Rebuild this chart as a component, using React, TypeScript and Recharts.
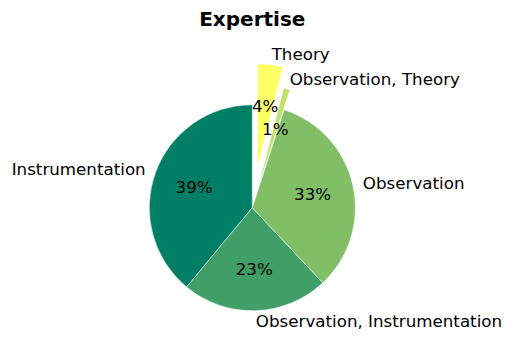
import React from "react";
import { PieChart, Pie, Cell } from "recharts";

const categories = ["Instrumentation", "Observation, Instrumentation", "Observation", "Observation, Theory", "Theory"];
const values = [39, 23, 33, 1, 4];
const colors = ["#007f66", "#409f66", "#80bf66", "#bfdf66", "#ffff66"];
const explode = [0, 0, 0, 0.2, 0.4];
const title = "Expertise";

const W = 514;
const H = 340;
const M = 5;
const CX = 252.3 - M;
const CY = 207.7 - M;
const R = 103;
const RAD = Math.PI / 180;
const FONT = "'DejaVu Sans', sans-serif";
const FS = 16.7;

const data = categories.map((name, i) => ({ name, value: values[i] }));
const total = values.reduce((a, b) => a + b, 0);

const midAngles: number[] = [];
{
  let cum = 0;
  values.forEach((v) => {
    midAngles.push(90 + (360 * (cum + v / 2)) / total);
    cum += v;
  });
}

const groups = Array.from(new Set(explode)).map((e) => explode.map((x, i) => (x === e ? i : -1)).filter((i) => i >= 0));

const makeLabel = (members: number[]) => (props: any) => {
  const { cx, cy, midAngle, outerRadius, index, percent } = props;
  if (!members.includes(index)) return null;
  const a = -midAngle * RAD;
  const lx = cx + outerRadius * 1.1 * Math.cos(a);
  const ly = cy + outerRadius * 1.1 * Math.sin(a);
  const px = cx + outerRadius * 0.6 * Math.cos(a);
  const py = cy + outerRadius * 0.6 * Math.sin(a);
  const anchor = Math.cos(a) < 0 ? "end" : "start";
  return (
    <g key={"lbl" + index}>
      <text x={lx} y={ly} textAnchor={anchor} dominantBaseline="central" fontFamily={FONT} fontSize={FS} fill="#000">
        {categories[index]}
      </text>
      <text x={px} y={py} textAnchor="middle" dominantBaseline="central" fontFamily={FONT} fontSize={FS} fill="#000">
        {Math.round(percent * 100) + "%"}
      </text>
    </g>
  );
};

export default function App() {
  return (
    <div style={{ position: "absolute", left: 0, top: 0, width: W, height: H, background: "#fff" }}>
      <div
        style={{
          position: "absolute",
          left: 0,
          width: W,
          top: 8,
          textAlign: "center",
          fontFamily: FONT,
          fontWeight: "bold",
          fontSize: 20,
          lineHeight: "22px",
          color: "#000",
        }}
      >
        <span style={{ position: "relative", left: -4.7 }}>{title}</span>
      </div>
      <PieChart width={W} height={H} margin={{ top: M, right: M, bottom: M, left: M }} style={{ position: "absolute", left: 0, top: 0 }}>
        {groups.map((members, gi) => {
          const e = explode[members[0]];
          const m = members.length === 1 ? midAngles[members[0]] : 0;
          const dx = members.length === 1 ? e * R * Math.cos(m * RAD) : 0;
          const dy = members.length === 1 ? -e * R * Math.sin(m * RAD) : 0;
          return (
            <Pie
              key={gi}
              data={data}
              dataKey="value"
              nameKey="name"
              cx={CX + dx}
              cy={CY + dy}
              outerRadius={R}
              innerRadius={0}
              startAngle={90}
              endAngle={450}
              isAnimationActive={false}
              labelLine={false}
              label={makeLabel(members)}
            >
              {data.map((d, i) => (
                <Cell
                  key={i}
                  fill={members.includes(i) ? colors[i] : "none"}
                  stroke={members.includes(i) ? "#fff" : "none"}
                  strokeWidth={members.includes(i) ? 0.5 : 0}
                />
              ))}
            </Pie>
          );
        })}
      </PieChart>
    </div>
  );
}
